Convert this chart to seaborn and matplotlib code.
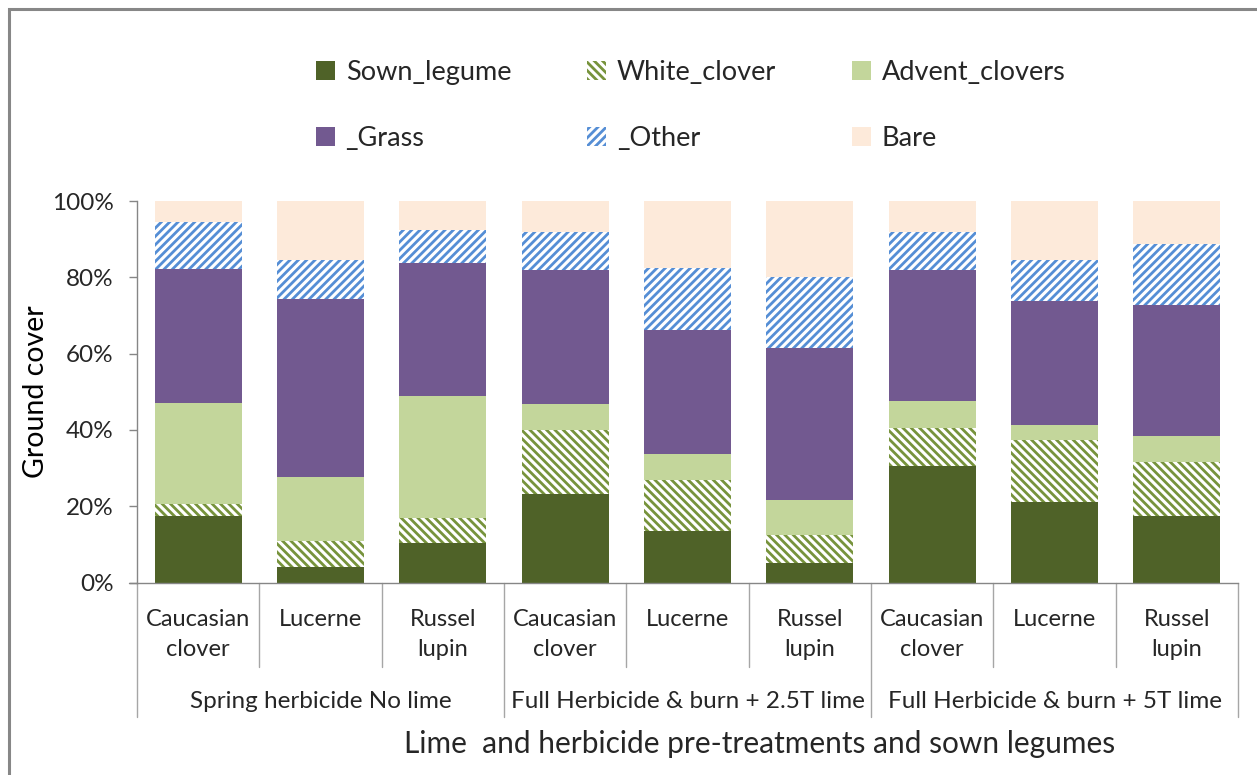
import numpy as np
import pandas as pd
from matplotlib import pyplot as plt
from matplotlib.patches import Patch, Rectangle
from matplotlib.transforms import blended_transform_factory
import seaborn as sns

legumes = ['Caucasian\nclover', 'Lucerne', 'Russel\nlupin'] * 3
groups = ['Spring herbicide No lime', 'Full Herbicide & burn + 2.5T lime', 'Full Herbicide & burn + 5T lime']
series = ['Sown_legume', 'White_clover', 'Advent_clovers', '_Grass', '_Other', 'Bare']

sown = [17.5, 4.0, 10.4, 23.2, 13.4, 5.0, 30.6, 21.2, 17.5]
white = [3.1, 6.9, 6.4, 16.8, 13.5, 7.5, 9.8, 16.2, 14.2]
advent = [26.4, 16.7, 32.0, 6.8, 6.7, 9.0, 7.3, 3.9, 6.8]
grass = [35.3, 46.8, 35.0, 35.0, 32.7, 40.0, 34.1, 32.4, 34.2]
other = [12.3, 10.1, 8.5, 10.1, 16.2, 18.6, 10.1, 10.8, 15.9]
bare = [5.4, 15.5, 7.7, 8.1, 17.5, 19.9, 8.1, 15.5, 11.4]

# face colour, hatch colour, hatch
styles = {
    'Sown_legume': ('#4F6228', '#4F6228', None),
    'White_clover': ('white', '#77933C', '\\\\\\\\'),
    'Advent_clovers': ('#C3D69B', '#C3D69B', None),
    '_Grass': ('#725990', '#725990', None),
    '_Other': ('white', '#558ED5', '////'),
    'Bare': ('#FDEADA', '#FDEADA', None),
}

df = pd.DataFrame({'Sown_legume': sown, 'White_clover': white, 'Advent_clovers': advent,
                   '_Grass': grass, '_Other': other, 'Bare': bare})
df['pos'] = range(len(df))
cum = df[series].cumsum(axis=1)

sns.set_style('white')
plt.rcParams['font.family'] = ['Lato', 'DejaVu Sans']
plt.rcParams['hatch.linewidth'] = 2.0

fig = plt.figure(figsize=(12.57, 7.75), dpi=100)
ax = fig.add_axes([137 / 1257, 1 - 582.5 / 775, (1238 - 137) / 1257, 381.5 / 775])

# draw stacked bars as layered cumulative totals, top series first
for s in series[::-1]:
    fc, hc, h = styles[s]
    sns.barplot(x=df['pos'], y=cum[s], ax=ax, color=fc, saturation=1, width=0.71,
                edgecolor=hc, linewidth=0, hatch=h)

ax.set_ylim(0, 100)
ax.set_xlim(-0.5, 8.5)
ax.set_yticks([0, 20, 40, 60, 80, 100])
ax.set_yticklabels(['0%', '20%', '40%', '60%', '80%', '100%'], fontsize=17.5, color='#262626')
ax.tick_params(axis='y', left=True, length=5.8, color='#868686', width=1, pad=11)
ax.set_xticks([])
ax.set_xlabel('')
ax.set_ylabel('Ground cover', fontsize=20.5, labelpad=2, color='black')
for sp in ['top', 'right']:
    ax.spines[sp].set_visible(False)
for sp in ['left', 'bottom']:
    ax.spines[sp].set_color('#868686')
    ax.spines[sp].set_linewidth(1)

tr = blended_transform_factory(ax.transData, fig.transFigure)
def fy(py):
    return 1 - py / 775

# category separators and labels
for i in range(10):
    xb = i - 0.5
    low = 717 if i % 3 == 0 else 667
    ax.plot([xb, xb], [fy(582.5), fy(low)], transform=tr, color='#A6A6A6', lw=1, clip_on=False)
ax.plot([-0.5 - 0.066, -0.5], [fy(582.5), fy(582.5)], transform=tr, color='#868686', lw=1, clip_on=False)
for i, lab in enumerate(legumes):
    ax.text(i, fy(609), lab, transform=tr, ha='center', va='top', fontsize=17,
            linespacing=1.55, color='#262626')
for g, lab in enumerate(groups):
    ax.text(3 * g + 1, fy(702), lab, transform=tr, ha='center', va='center', fontsize=17.5, color='#262626')
fig.text(760 / 1257, fy(744), 'Lime  and herbicide pre-treatments and sown legumes',
         ha='center', va='center', fontsize=21.5)

# legend (filled column-wise, so reorder to read row-wise)
order = [0, 3, 1, 4, 2, 5]
handles = [Patch(facecolor=styles[series[k]][0], edgecolor=styles[series[k]][1],
                 hatch=styles[series[k]][2], linewidth=0) for k in order]
leg = fig.legend(handles, ['x%d' % k for k in order], loc='upper left',
                 bbox_to_anchor=(305 / 1257, 1 - 49 / 775), ncol=3, frameon=False,
                 fontsize=19.5, handlelength=0.7, handleheight=0.7, handletextpad=0.4,
                 labelspacing=1.52, columnspacing=2.8, borderaxespad=0)
for t, k in zip(leg.get_texts(), order):
    t.set_text(series[k])

# outer chart border
fig.patches.append(Rectangle((8.5 / 1257, -0.05), 1.1, 1 - 8.5 / 775 + 0.05, transform=fig.transFigure,
                             fill=False, edgecolor='#878787', linewidth=2.2))

plt.savefig('out.png', dpi=100)
